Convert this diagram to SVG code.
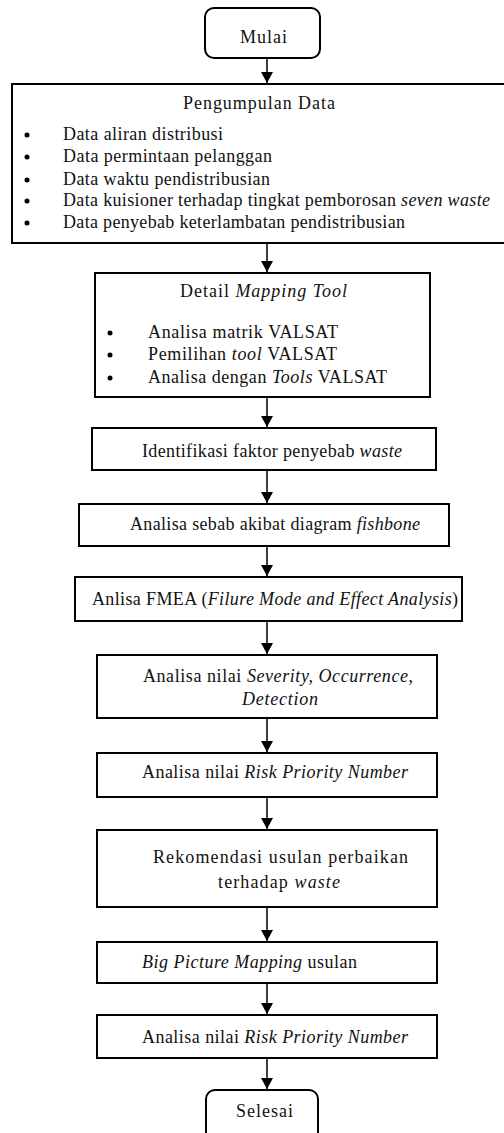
<svg xmlns="http://www.w3.org/2000/svg" width="504" height="1133" viewBox="0 0 504 1133">
<style>
.box{fill:#fff;stroke:#000;stroke-width:2}
.t{font-family:"Liberation Serif","Times New Roman","DejaVu Serif",serif;font-size:18px;fill:#111}
.i{font-style:italic}
.con{stroke:#000;stroke-width:1.5;fill:none}
.b{fill:#000}
</style>
<defs>
<marker id="ah" markerUnits="userSpaceOnUse" markerWidth="11" markerHeight="12" refX="11" refY="6" orient="auto">
<path d="M0,0 L11,6 L0,12 z" fill="#000"/>
</marker>
</defs>
<rect width="504" height="1133" fill="#fff"/>
<g id="connectors">
<line class="con" x1="267" y1="58" x2="267" y2="83" marker-end="url(#ah)"/>
<line class="con" x1="267" y1="243" x2="267" y2="272" marker-end="url(#ah)"/>
<line class="con" x1="267" y1="397" x2="267" y2="427" marker-end="url(#ah)"/>
<line class="con" x1="267" y1="470" x2="267" y2="503" marker-end="url(#ah)"/>
<line class="con" x1="267" y1="546" x2="267" y2="576" marker-end="url(#ah)"/>
<line class="con" x1="267" y1="621" x2="267" y2="654" marker-end="url(#ah)"/>
<line class="con" x1="267" y1="718" x2="267" y2="752" marker-end="url(#ah)"/>
<line class="con" x1="267" y1="797" x2="267" y2="829" marker-end="url(#ah)"/>
<line class="con" x1="267" y1="907" x2="267" y2="941" marker-end="url(#ah)"/>
<line class="con" x1="267" y1="983" x2="267" y2="1014" marker-end="url(#ah)"/>
<line class="con" x1="267" y1="1058" x2="267" y2="1089" marker-end="url(#ah)"/>
</g>
<g id="mulai">
<rect class="box" x="205" y="8" width="115" height="50" rx="9"/>
<text class="t" x="240" y="43" textLength="47">Mulai</text>
</g>
<g id="pengumpulan">
<rect class="box" x="12" y="84" width="512" height="159"/>
<text class="t" x="183" y="109" textLength="152">Pengumpulan Data</text>
<circle class="b" cx="27" cy="135" r="2.5"/>
<circle class="b" cx="27" cy="157" r="2.5"/>
<circle class="b" cx="27" cy="180" r="2.5"/>
<circle class="b" cx="27" cy="201" r="2.5"/>
<circle class="b" cx="27" cy="223" r="2.5"/>
<text class="t" x="63" y="140" textLength="160">Data aliran distribusi</text>
<text class="t" x="63" y="162" textLength="209">Data permintaan pelanggan</text>
<text class="t" x="63" y="185" textLength="207">Data waktu pendistribusian</text>
<text class="t" x="63" y="206" textLength="427">Data kuisioner terhadap tingkat pemborosan <tspan class="i">seven waste</tspan></text>
<text class="t" x="63" y="228" textLength="342">Data penyebab keterlambatan pendistribusian</text>
</g>
<g id="detail">
<rect class="box" x="95" y="273" width="335" height="124"/>
<text class="t" x="180" y="297" textLength="167">Detail <tspan class="i">Mapping Tool</tspan></text>
<circle class="b" cx="110" cy="333" r="2.5"/>
<circle class="b" cx="110" cy="355" r="2.5"/>
<circle class="b" cx="110" cy="378" r="2.5"/>
<text class="t" x="148" y="338" textLength="190">Analisa matrik VALSAT</text>
<text class="t" x="148" y="360" textLength="189">Pemilihan <tspan class="i">tool</tspan> VALSAT</text>
<text class="t" x="148" y="383" textLength="239">Analisa dengan <tspan class="i">Tools</tspan> VALSAT</text>
</g>
<g id="identifikasi">
<rect class="box" x="92" y="428" width="344" height="42"/>
<text class="t" x="142" y="457" textLength="260">Identifikasi faktor penyebab <tspan class="i">waste</tspan></text>
</g>
<g id="fishbone">
<rect class="box" x="79" y="504" width="370" height="42"/>
<text class="t" x="130" y="530" textLength="290">Analisa sebab akibat diagram <tspan class="i">fishbone</tspan></text>
</g>
<g id="fmea">
<rect class="box" x="75" y="577" width="387" height="44"/>
<text class="t" x="92" y="605" textLength="366">Anlisa FMEA (<tspan class="i">Filure Mode and Effect Analysis</tspan>)</text>
</g>
<g id="severity">
<rect class="box" x="97" y="655" width="340" height="63"/>
<text class="t" x="143" y="682" textLength="270">Analisa nilai <tspan class="i">Severity, Occurrence,</tspan></text>
<text class="t i" x="242" y="705" textLength="76">Detection</text>
</g>
<g id="rpn1">
<rect class="box" x="97" y="753" width="340" height="44"/>
<text class="t" x="142" y="778" textLength="266">Analisa nilai <tspan class="i">Risk Priority Number</tspan></text>
</g>
<g id="rekomendasi">
<rect class="box" x="97" y="830" width="340" height="77"/>
<text class="t" x="153" y="863" textLength="255">Rekomendasi usulan perbaikan</text>
<text class="t" x="218" y="888" textLength="122">terhadap <tspan class="i">waste</tspan></text>
</g>
<g id="bigpicture">
<rect class="box" x="97" y="942" width="340" height="41"/>
<text class="t" x="142" y="968" textLength="215"><tspan class="i">Big Picture Mapping</tspan> usulan</text>
</g>
<g id="rpn2">
<rect class="box" x="97" y="1015" width="340" height="43"/>
<text class="t" x="142" y="1043" textLength="266">Analisa nilai <tspan class="i">Risk Priority Number</tspan></text>
</g>
<g id="selesai">
<rect class="box" x="206" y="1090" width="112" height="52" rx="9"/>
<text class="t" x="236" y="1117" textLength="57">Selesai</text>
</g>
</svg>
